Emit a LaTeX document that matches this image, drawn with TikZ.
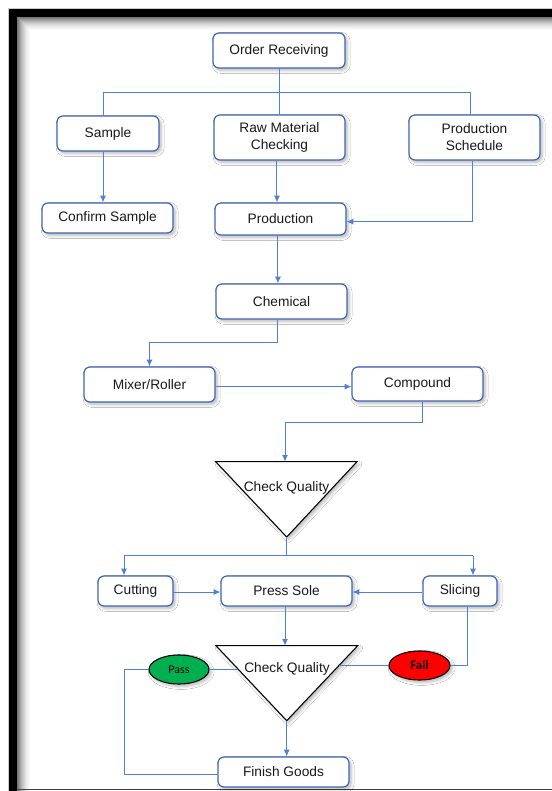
\documentclass[tikz,border=0pt]{standalone}
\usepackage{fontspec}
\setmainfont{Liberation Sans}
\newfontfamily\calibri{Carlito}
\usetikzlibrary{arrows.meta,shapes.geometric,shadows.blur}

\definecolor{boxline}{HTML}{3F65B3}
\definecolor{linkblue}{HTML}{4F80D4}
\definecolor{passgreen}{HTML}{00B050}
\definecolor{failred}{HTML}{FF0000}

\tikzset{
  softshadow/.style={blur shadow={shadow xshift=1.6pt, shadow yshift=-1.8pt,
      shadow opacity=28, shadow blur steps=6, shadow blur radius=2.2pt}},
  stepbox/.style={draw=boxline, line width=0.9pt, fill=white, rounded corners=4.5pt,
      inner sep=0pt, align=center, text=black!90,
      font=\fontsize{10.3}{12.75}\selectfont, softshadow},
  link/.style={draw=linkblue, line width=0.75pt},
  arr/.style={link, -{Latex[length=5pt,width=4.5pt]}},
  tri/.style={draw=black, line width=0.8pt, fill=white, line join=miter, softshadow},
  trilabel/.style={font=\fontsize{10.3}{12.75}\selectfont, text=black!90, inner sep=0pt},
  verdict/.style={ellipse, draw=black, line width=0.8pt, inner sep=0pt,
      minimum width=45pt, minimum height=21.75pt, softshadow},
}

\begin{document}
\begin{tikzpicture}[x=0.75pt,y=-0.75pt]
\useasboundingbox (0,0) rectangle (552,791);
\fill[white] (0,0) rectangle (552,791);

% page frame: thick black edge with an inner fading shadow
\draw[black!20, line width=0.6pt] (8.5,791) -- (8.5,8.5) -- (552,8.5);
\fill[black] (9,9) rectangle (552,17);
\fill[black] (9,9) rectangle (17,791);
\foreach \i in {0,...,14}{
  \pgfmathsetmacro\op{0.55*(1-\i/15)^2}
  \draw[black, opacity=\op, line width=0.8pt]
    (17.5+\i,791) -- (17.5+\i,17.5+\i) -- (552,17.5+\i);
}
\draw[black!75, line width=1.1pt] (17,789.5) -- (552,789.5);

% process boxes
\node[stepbox, minimum width=99pt,    minimum height=26.25pt] (order)      at (279,50.5)   {Order Receiving};
\node[stepbox, minimum width=76.5pt,  minimum height=26.25pt] (sample)     at (108,133.5)  {Sample};
\node[stepbox, minimum width=98.25pt, minimum height=33.75pt] (raw)        at (279.5,137.5){Raw Material\\Checking};
\node[stepbox, minimum width=98.25pt, minimum height=33.75pt] (sched)      at (474.5,137.5){Production\\Schedule};
\node[stepbox, minimum width=98.25pt, minimum height=22.5pt]  (confirm)    at (107.5,218)  {Confirm Sample};
\node[stepbox, minimum width=98.25pt, minimum height=24pt]    (production) at (280.5,219)  {Production};
\node[stepbox, minimum width=98.25pt, minimum height=26.25pt] (chemical)   at (281.5,301.5){Chemical};
\node[stepbox, minimum width=98.25pt, minimum height=26.25pt] (mixer)      at (149.5,384.5){Mixer/Roller};
\node[stepbox, minimum width=98.25pt, minimum height=25.5pt]  (compound)   at (417.5,384)  {Compound};
\node[stepbox, minimum width=56.25pt, minimum height=22.5pt]  (cutting)    at (135.5,591)  {Cutting};
\node[stepbox, minimum width=98.25pt, minimum height=22.5pt]  (press)      at (286.5,591)  {Press Sole};
\node[stepbox, minimum width=55.5pt,  minimum height=22.5pt]  (slicing)    at (460,591)    {Slicing};
\node[stepbox, minimum width=98.25pt, minimum height=22.5pt]  (finish)     at (283.5,772)  {Finish Goods};

% quality check triangles
\coordinate (t1l) at (215.7,461.7);
\coordinate (t1r) at (357,461.7);
\coordinate (t1b) at (286.7,537);
\draw[tri] (t1l) -- (t1r) -- (t1b) -- cycle;
\node[trilabel] (check1) at (286.5,488) {Check Quality};

\coordinate (t2l) at (216,645.7);
\coordinate (t2r) at (357.7,645.7);
\coordinate (t2b) at (286.7,720.7);
\draw[tri] (t2l) -- (t2r) -- (t2b) -- cycle;
\node[trilabel] (check2) at (287,669) {Check Quality};

% verdicts
\node[verdict, fill=passgreen, font=\calibri\fontsize{9}{10}\selectfont] (pass) at (179,669.5) {Pass};
\node[verdict, fill=failred, minimum width=45.75pt, font=\calibri\bfseries\fontsize{9.6}{10}\selectfont] (fail) at (419.5,665.5) {Fail};

% connectors: order distribution
\coordinate (busL) at (103,93);
\coordinate (busR) at (470,93);
\draw[link] (order.south) -- (order.south |- raw.north);
\draw[link] (sample.north -| busL) -- (busL) -- (busR) -- (sched.north -| busR);
\draw[arr] (sample.south -| busL) -- (confirm.north -| busL);
\draw[arr] ([xshift=-1.9pt]raw.south) -- ([xshift=-1.9pt]raw.south |- production.north);
\draw[arr] ([xshift=-1.35pt]sched.south) |- ([yshift=-2pt]production.east);

% connectors: production line
\coordinate (c1) at (0,342);
\draw[arr] ([xshift=-1.9pt]production.south) -- ([xshift=-1.9pt]production.south |- chemical.north);
\draw[arr] ([xshift=-2.85pt]chemical.south) -- ([xshift=-2.85pt]chemical.south |- c1) -| (mixer.north);
\draw[arr] ([yshift=-1.6pt]mixer.east) -- ([yshift=-1.6pt]mixer.east -| compound.west);
\coordinate (c2) at (0,422);
\coordinate (t1top) at (285,461.7);
\draw[arr] ([xshift=4.1pt]compound.south) -- ([xshift=4.1pt]compound.south |- c2) -| (t1top);

% connectors: after first check
\coordinate (bus2L) at (124,555.7);
\coordinate (bus2R) at (473,555.7);
\draw[link] (t1b) -- (t1b |- bus2L);
\draw[arr] (bus2R) -- (bus2L) -- (bus2L |- cutting.north);
\draw[arr] (bus2R) -- (bus2R |- slicing.north);
\draw[arr] ([yshift=-0.75pt]cutting.east) -- ([yshift=-0.75pt]cutting.east -| press.west);
\draw[arr] ([yshift=-0.75pt]slicing.west) -- ([yshift=-0.75pt]slicing.west -| press.east);
\coordinate (t2top) at (285,645.7);
\draw[arr] (press.south -| t2top) -- (t2top);

% connectors: second check
\coordinate (t2re) at (339,665.5);
\coordinate (t2le) at (238.4,669.5);
\draw[link] ([xshift=5.8pt]slicing.south) |- (fail.east);
\draw[link] (fail.west) -- (t2re);
\draw[link] (pass.east) -- (t2le);
\coordinate (loopx) at (124,0);
\draw[link] (pass.west) -- (pass.west -| loopx) |- ([yshift=-2.2pt]finish.west);
\draw[arr] (t2b) -- (t2b |- finish.north);
\end{tikzpicture}
\end{document}
